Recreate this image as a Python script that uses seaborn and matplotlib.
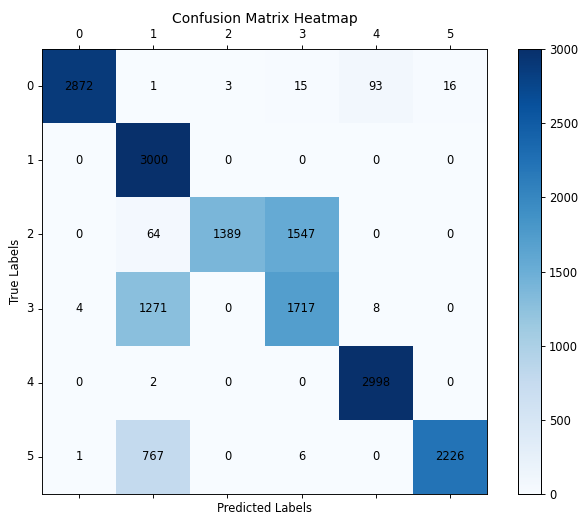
import numpy as np
import pandas as pd
import seaborn as sns
import matplotlib
matplotlib.use("Agg")
import matplotlib.pyplot as plt

labels = [0, 1, 2, 3, 4, 5]
row0 = [2872, 1, 3, 15, 93, 16]
row1 = [0, 3000, 0, 0, 0, 0]
row2 = [0, 64, 1389, 1547, 0, 0]
row3 = [4, 1271, 0, 1717, 8, 0]
row4 = [0, 2, 0, 0, 2998, 0]
row5 = [1, 767, 0, 6, 0, 2226]
cbar_ticks = [0, 500, 1000, 1500, 2000, 2500, 3000]

cm = pd.DataFrame([row0, row1, row2, row3, row4, row5], index=labels, columns=labels)

k = 0.83
fs = 10 * k
lw = 0.8 * k
tl = 3.5 * k

W, H = 579, 514
fig = plt.figure(figsize=(W / 100, H / 100), dpi=100)
ax = fig.add_axes([42 / W, 1 - 494 / H, (487 - 42) / W, (494 - 49) / H])
cax = fig.add_axes([518 / W, 1 - 494 / H, (541 - 518) / W, (494 - 49) / H])

sns.heatmap(cm, ax=ax, cbar_ax=cax, cmap="Blues", vmin=0, vmax=3000,
            annot=True, fmt="d", annot_kws={"color": "black", "fontsize": fs},
            square=False, linewidths=0)

for a in (ax, cax):
    for s in a.spines.values():
        s.set_visible(True)
        s.set_color("black")
        s.set_linewidth(lw)

ax.xaxis.set_ticks_position("both")
ax.tick_params(axis="x", top=True, bottom=True, labeltop=True, labelbottom=False,
               length=tl, width=lw, color="black", labelsize=fs, pad=3.5 * k)
ax.tick_params(axis="y", left=True, length=tl, width=lw, color="black", labelsize=fs, pad=3.5 * k)
ax.set_xticklabels([str(l) for l in labels], rotation=0)
ax.set_yticklabels([str(l) for l in labels], rotation=0)
ax.xaxis.set_label_position("bottom")
ax.set_xlabel("Predicted Labels", fontsize=fs, labelpad=3)
ax.set_ylabel("True Labels", fontsize=fs, labelpad=3)
ax.set_title("Confusion Matrix Heatmap", fontsize=12 * k, pad=19)

cax.set_yticks(cbar_ticks)
cax.tick_params(length=tl, width=lw, color="black", labelsize=fs, pad=3.5 * k)

fig.savefig("out.png", dpi=100)
